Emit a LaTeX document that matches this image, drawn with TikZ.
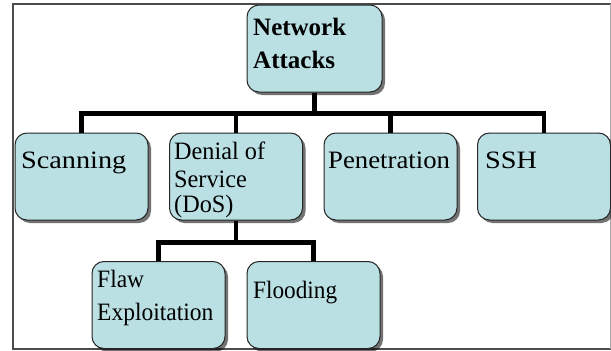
\documentclass[tikz,border=0pt]{standalone}
\usepackage{fontspec}
\usepackage{graphicx}
\setmainfont{Liberation Serif}
\usetikzlibrary{shadows}
\definecolor{boxfill}{RGB}{186,224,228}
\begin{document}
\begin{tikzpicture}[x=1pt,y=-1pt,
  box/.style={draw=black!85, line width=1pt, fill=boxfill, rounded corners=12pt,
    minimum width=133pt, minimum height=87pt, inner sep=0pt,
    drop shadow={shadow xshift=3pt, shadow yshift=-3pt, fill=black, opacity=0.55}},
  lbl/.style={anchor=base west, inner sep=0pt, font=\fontsize{25}{28}\selectfont},
  blbl/.style={lbl, font=\bfseries\fontsize{25}{28}\selectfont},
  conn/.style={line width=4.5pt, black}]
\useasboundingbox (0,0) rectangle (611,351);
\fill[white] (0,0) rectangle (611,351);
% frame
\draw[black!70, line width=2pt] (610.5,3.5) -- (13,3.5) -- (13,349) -- (610.5,349);
\draw[black!35, line width=1pt] (610.5,3.5) -- (610.5,349);
% boxes
\node[box, minimum width=135pt] (root) at (314.5,48.5) {};
\node[box] (scan) at (81.5,176.5) {};
\node[box] (dos) at (236,176.5) {};
\node[box] (pen) at (390.5,176.5) {};
\node[box] (ssh) at (544,176.5) {};
\node[box] (flaw) at (158.5,305) {};
\node[box] (flood) at (313.5,305) {};
% connectors
\draw[conn] (root.south) -- ++(0,21) -| (scan.north);
\draw[conn] (root.south) -- ++(0,21) -| (dos.north);
\draw[conn] (root.south) -- ++(0,21) -| (pen.north);
\draw[conn] (root.south) -- ++(0,21) -| (ssh.north);
\draw[conn] (dos.south) -- ++(0,22) -| (flaw.north);
\draw[conn] (dos.south) -- ++(0,22) -| (flood.north);
% texts
\node[blbl] (r1) at (253,35) {Network};
\node[blbl] (r2) at (253,68) {Attacks};
\node[lbl] (s1) at (21,168) {\scalebox{1.13}[1]{Scanning}};
\node[lbl] (d1) at (174,159) {\scalebox{0.97}[1]{Denial of}};
\node[lbl] (d2) at (174,187) {\scalebox{0.97}[1]{Service}};
\node[lbl] (d3) at (174,212) {\scalebox{0.97}[1]{(DoS)}};
\node[lbl] (p1) at (328,168) {\scalebox{1.07}[1]{Penetration}};
\node[lbl] (h1) at (485,168) {\scalebox{1.13}[1]{SSH}};
\node[lbl] (f1) at (97,287) {\scalebox{0.94}[1]{Flaw}};
\node[lbl] (f2) at (97,320) {\scalebox{0.94}[1]{Exploitation}};
\node[lbl] (g1) at (253,298) {\scalebox{0.93}[1]{Flooding}};
\end{tikzpicture}
\end{document}
